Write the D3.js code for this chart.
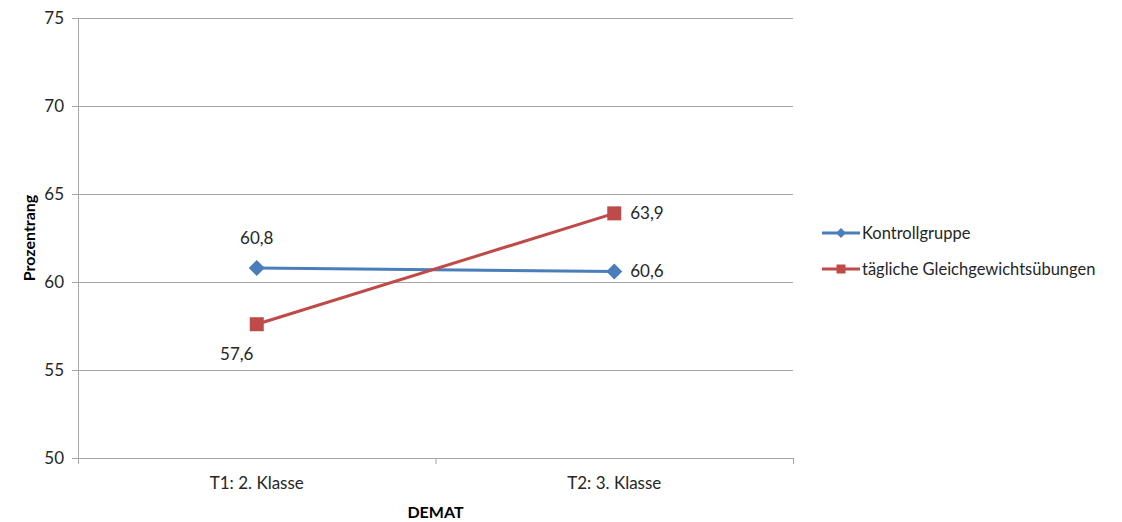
<!DOCTYPE html>
<html>
<head>
<meta charset="utf-8">
<script src="https://cdn.jsdelivr.net/npm/d3@7"></script>
<style>
  html, body { margin: 0; padding: 0; background: #fff; }
  svg { display: block; font-family: Lato, "Open Sans", sans-serif; }
</style>
</head>
<body>
<svg id="chart" width="1122" height="522"></svg>
<script>
// Categories, series and axis ticks
const categories = ["T1: 2. Klasse", "T2: 3. Klasse"];
const seriesNames = ["Kontrollgruppe", "tägliche Gleichgewichtsübungen"];
const kontrollgruppe = [60.8, 60.6];
const gleichgewicht = [57.6, 63.9];
const yTicks = [50, 55, 60, 65, 70, 75];

const colors = ["#4A7EBB", "#BE4B48"];

const svg = d3.select("#chart");
const margin = { left: 78, top: 18, right: 793, bottom: 458 };

const x = d3.scaleBand().domain(categories).range([margin.left, margin.right]);
const y = d3.scaleLinear().domain([50, 75]).range([margin.bottom, margin.top]);

// Gridlines
svg.append("g")
  .selectAll("line")
  .data(yTicks)
  .join("line")
  .attr("x1", margin.left - 6)
  .attr("x2", margin.right)
  .attr("y1", d => y(d) + 0.5)
  .attr("y2", d => y(d) + 0.5)
  .attr("stroke", "#a6a6a6")
  .attr("stroke-width", 1);

// Y axis line
svg.append("line")
  .attr("x1", margin.left + 0.5).attr("x2", margin.left + 0.5)
  .attr("y1", margin.top).attr("y2", margin.bottom + 6)
  .attr("stroke", "#a6a6a6");

// X axis ticks between categories
const bounds = [margin.left, x(categories[1]), margin.right];
svg.append("g")
  .selectAll("line")
  .data(bounds)
  .join("line")
  .attr("x1", d => d + 0.5).attr("x2", d => d + 0.5)
  .attr("y1", margin.bottom).attr("y2", margin.bottom + 6)
  .attr("stroke", "#a6a6a6");

// Y tick labels
svg.append("g")
  .selectAll("text")
  .data(yTicks)
  .join("text")
  .attr("x", margin.left - 14)
  .attr("y", d => y(d))
  .attr("dy", "0.35em")
  .attr("text-anchor", "end")
  .attr("font-size", 17)
  .attr("fill", "#262626")
  .text(d => d);

// X category labels
svg.append("g")
  .selectAll("text")
  .data(categories)
  .join("text")
  .attr("x", d => x(d) + x.bandwidth() / 2)
  .attr("y", 489)
  .attr("text-anchor", "middle")
  .attr("font-size", 17)
  .attr("fill", "#262626")
  .text(d => d);

// Axis titles
svg.append("text")
  .attr("x", (margin.left + margin.right) / 2)
  .attr("y", 518)
  .attr("text-anchor", "middle")
  .attr("font-size", 16)
  .attr("font-weight", "bold")
  .attr("fill", "#000")
  .text("DEMAT");

svg.append("text")
  .attr("transform", `translate(35, ${(margin.top + margin.bottom) / 2}) rotate(-90)`)
  .attr("text-anchor", "middle")
  .attr("font-size", 16)
  .attr("font-weight", "bold")
  .attr("fill", "#000")
  .text("Prozentrang");

const cx = d => x(d) + x.bandwidth() / 2;
const line = d3.line().x(d => cx(d.c)).y(d => y(d.v));

// Square diamond (equal width and height)
const diamond = {
  draw(ctx, size) {
    const r = Math.sqrt(size) / 2;
    ctx.moveTo(0, -r); ctx.lineTo(r, 0); ctx.lineTo(0, r); ctx.lineTo(-r, 0); ctx.closePath();
  }
};

const series = [kontrollgruppe, gleichgewicht].map((vals, i) => ({
  name: seriesNames[i],
  color: colors[i],
  symbol: i === 0 ? diamond : d3.symbolSquare,
  size: i === 0 ? 256 : 196,
  legendSize: i === 0 ? 100 : 81,
  points: vals.map((v, j) => ({ c: categories[j], v }))
}));

// Lines
svg.append("g")
  .selectAll("path")
  .data(series)
  .join("path")
  .attr("d", s => line(s.points))
  .attr("fill", "none")
  .attr("stroke", s => s.color)
  .attr("stroke-width", 3);

// Markers
series.forEach(s => {
  svg.append("g")
    .selectAll("path")
    .data(s.points)
    .join("path")
    .attr("transform", d => `translate(${cx(d.c)},${y(d.v)})`)
    .attr("d", d3.symbol().type(s.symbol).size(s.size))
    .attr("fill", s.color);
});

// Data labels
const fmt = v => String(v.toFixed(1)).replace(".", ",");
const labelPos = [
  [{ dx: 0, dy: -30, anchor: "middle" }, { dx: 16, dy: 0, anchor: "start" }],
  [{ dx: -20, dy: 30, anchor: "middle" }, { dx: 16, dy: 0, anchor: "start" }]
];
series.forEach((s, i) => {
  svg.append("g")
    .selectAll("text")
    .data(s.points)
    .join("text")
    .attr("x", (d, j) => cx(d.c) + labelPos[i][j].dx)
    .attr("y", (d, j) => y(d.v) + labelPos[i][j].dy)
    .attr("dy", "0.35em")
    .attr("text-anchor", (d, j) => labelPos[i][j].anchor)
    .attr("font-size", 17)
    .attr("fill", "#262626")
    .text(d => fmt(d.v));
});

// Legend
const legend = svg.append("g")
  .selectAll("g")
  .data(series)
  .join("g")
  .attr("transform", (d, i) => `translate(822, ${233 + i * 36})`);
legend.append("line")
  .attr("x1", 0).attr("x2", 38)
  .attr("stroke", d => d.color)
  .attr("stroke-width", 3);
legend.append("path")
  .attr("transform", "translate(19,0)")
  .attr("d", d => d3.symbol().type(d.symbol).size(d.legendSize)())
  .attr("fill", d => d.color);
legend.append("text")
  .attr("x", 40)
  .attr("dy", "0.35em")
  .attr("font-size", 16.5)
  .attr("fill", "#262626")
  .text(d => d.name);
</script>
</body>
</html>
